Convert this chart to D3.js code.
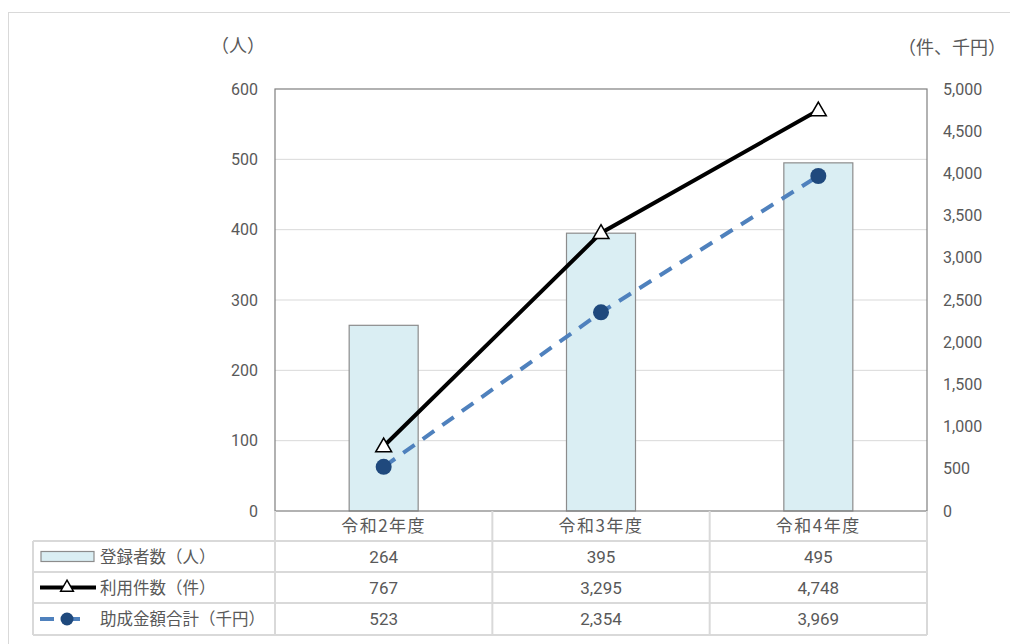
<!DOCTYPE html>
<html>
<head>
<meta charset="utf-8">
<script src="https://cdn.jsdelivr.net/npm/d3@7"></script>
<style>
  html, body { margin: 0; padding: 0; background: #ffffff; }
  svg { display: block; }
  text { font-family: "Noto Sans CJK JP", "Noto Sans", sans-serif; fill: #595959; }
  .num { font-family: Roboto, "Noto Sans", sans-serif; }
</style>
</head>
<body>
<svg id="chart" width="1010" height="644"></svg>
<script>
// Fiscal years
const categories = ["令和2年度", "令和3年度", "令和4年度"];
// Registered people (left axis)
const registrants = [264, 395, 495];
// Number of uses (right axis)
const usageCount = [767, 3295, 4748];
// Total subsidy amount in thousand yen (right axis)
const subsidyTotal = [523, 2354, 3969];

const seriesNames = ["登録者数（人）", "利用件数（件）", "助成金額合計（千円）"];
const leftTicks = [0, 100, 200, 300, 400, 500, 600];
const rightTicks = [0, 500, 1000, 1500, 2000, 2500, 3000, 3500, 4000, 4500, 5000];
const leftUnit = "（人）";
const rightUnit = "（件、千円）";

const svg = d3.select("#chart");

const plot = { left: 275, right: 927, top: 89, bottom: 511 };
const tableLeft = 33;
const rowEdges = [511, 541, 572, 603, 635];

// Outer frame
svg.append("rect")
  .attr("x", 8.5).attr("y", 12.5).attr("width", 1010).attr("height", 650)
  .attr("fill", "none").attr("stroke", "#d9d9d9").attr("stroke-width", 1);

const x = d3.scaleBand().domain(categories).range([plot.left, plot.right]);
const yL = d3.scaleLinear().domain([0, 600]).range([plot.bottom, plot.top]);
const yR = d3.scaleLinear().domain([0, 5000]).range([plot.bottom, plot.top]);

// Horizontal gridlines
svg.append("g").selectAll("line").data(leftTicks.slice(1, -1)).join("line")
  .attr("x1", plot.left).attr("x2", plot.right)
  .attr("y1", d => yL(d)).attr("y2", d => yL(d))
  .attr("stroke", "#d9d9d9").attr("stroke-width", 1);

// Bars
const barW = 69;
svg.append("g").selectAll("rect").data(registrants).join("rect")
  .attr("x", (d, i) => x(categories[i]) + x.bandwidth() / 2 - barW / 2)
  .attr("y", d => yL(d))
  .attr("width", barW)
  .attr("height", d => yL(0) - yL(d))
  .attr("fill", "#daeef3").attr("stroke", "#8c8c8c").attr("stroke-width", 1.2);

// Plot area border
svg.append("rect")
  .attr("x", plot.left).attr("y", plot.top)
  .attr("width", plot.right - plot.left).attr("height", plot.bottom - plot.top)
  .attr("fill", "none").attr("stroke", "#7f7f7f").attr("stroke-width", 1.2);

// Left axis
const leftAxis = svg.append("g").attr("transform", `translate(${plot.left - 17},0)`)
  .call(d3.axisLeft(yL).tickValues(leftTicks).tickSize(0).tickPadding(0).tickFormat(d3.format("d")));
leftAxis.select(".domain").remove();
leftAxis.selectAll("text").attr("class", "num").attr("font-size", 16).attr("fill", "#595959");

// Right axis
const rightAxis = svg.append("g").attr("transform", `translate(${plot.right + 16},0)`)
  .call(d3.axisRight(yR).tickValues(rightTicks).tickSize(0).tickPadding(0).tickFormat(d3.format(",")));
rightAxis.select(".domain").remove();
rightAxis.selectAll("text").attr("class", "num").attr("font-size", 16).attr("fill", "#595959");

// Unit labels
svg.append("text").attr("x", 238).attr("y", 52).attr("text-anchor", "middle")
  .attr("font-size", 18).text(leftUnit);
svg.append("text").attr("x", 1006).attr("y", 54).attr("text-anchor", "end")
  .attr("font-size", 18).text(rightUnit);

const cx = (i) => x(categories[i]) + x.bandwidth() / 2;

// Subsidy total: dashed blue line with filled circles
svg.append("path").datum(subsidyTotal)
  .attr("d", d3.line().x((d, i) => cx(i)).y(d => yR(d)))
  .attr("fill", "none").attr("stroke", "#4f81bd").attr("stroke-width", 4)
  .attr("stroke-dasharray", "14,10");

// Usage count: black line with triangles
svg.append("path").datum(usageCount)
  .attr("d", d3.line().x((d, i) => cx(i)).y(d => yR(d)))
  .attr("fill", "none").attr("stroke", "#000000").attr("stroke-width", 4);

svg.append("g").selectAll("circle").data(subsidyTotal).join("circle")
  .attr("cx", (d, i) => cx(i)).attr("cy", d => yR(d)).attr("r", 8)
  .attr("fill", "#1f497d");

const tri = d3.symbol().type(d3.symbolTriangle).size(110);
svg.append("g").selectAll("path").data(usageCount).join("path")
  .attr("transform", (d, i) => `translate(${cx(i)},${yR(d) + 1})`)
  .attr("d", tri)
  .attr("fill", "#ffffff").attr("stroke", "#000000").attr("stroke-width", 1.5);

// Data table grid
const grid = svg.append("g").attr("stroke", "#d9d9d9").attr("stroke-width", 2);
[1, 2, 3, 4].forEach(k => grid.append("line")
  .attr("x1", tableLeft).attr("x2", plot.right).attr("y1", rowEdges[k]).attr("y2", rowEdges[k]));
grid.append("line").attr("x1", tableLeft).attr("x2", tableLeft).attr("y1", rowEdges[1]).attr("y2", rowEdges[4]);
const colEdges = [plot.left, ...categories.slice(1).map(c => x(c)), plot.right];
colEdges.forEach(cxv => grid.append("line")
  .attr("x1", cxv).attr("x2", cxv).attr("y1", rowEdges[0]).attr("y2", rowEdges[4]));

// Category labels in header row
svg.append("g").selectAll("text").data(categories).join("text")
  .attr("x", (d, i) => cx(i)).attr("y", (rowEdges[0] + rowEdges[1]) / 2 + 6)
  .attr("text-anchor", "middle").attr("font-size", 17).attr("letter-spacing", 1.5).text(d => d);

// Values rows with series names
const tableRows = [registrants, usageCount, subsidyTotal];
const fmt = d3.format(",");
tableRows.forEach((row, r) => {
  const yMid = (rowEdges[r + 1] + rowEdges[r + 2]) / 2;
  svg.append("g").selectAll("text").data(row).join("text")
    .attr("class", "num")
    .attr("x", (d, i) => cx(i)).attr("y", yMid + 6)
    .attr("text-anchor", "middle").attr("font-size", 17)
    .text(d => fmt(d));
  svg.append("text").attr("x", 100).attr("y", yMid + 6)
    .attr("font-size", 16.5).text(seriesNames[r]);
});

// Legend keys
const ky = (r) => (rowEdges[r + 1] + rowEdges[r + 2]) / 2;
svg.append("rect").attr("x", 41).attr("y", ky(0) - 5).attr("width", 53).attr("height", 10)
  .attr("fill", "#daeef3").attr("stroke", "#8c8c8c").attr("stroke-width", 1.2);
svg.append("line").attr("x1", 40).attr("x2", 96).attr("y1", ky(1)).attr("y2", ky(1))
  .attr("stroke", "#000").attr("stroke-width", 4);
svg.append("path").attr("transform", `translate(67,${ky(1)})`)
  .attr("d", d3.symbol().type(d3.symbolTriangle).size(70))
  .attr("fill", "#fff").attr("stroke", "#000").attr("stroke-width", 1.5);
svg.append("line").attr("x1", 40).attr("x2", 90).attr("y1", ky(2)).attr("y2", ky(2))
  .attr("stroke", "#4f81bd").attr("stroke-width", 4).attr("stroke-dasharray", "14,12");
svg.append("circle").attr("cx", 67).attr("cy", ky(2)).attr("r", 6.5).attr("fill", "#1f497d");
</script>
</body>
</html>
